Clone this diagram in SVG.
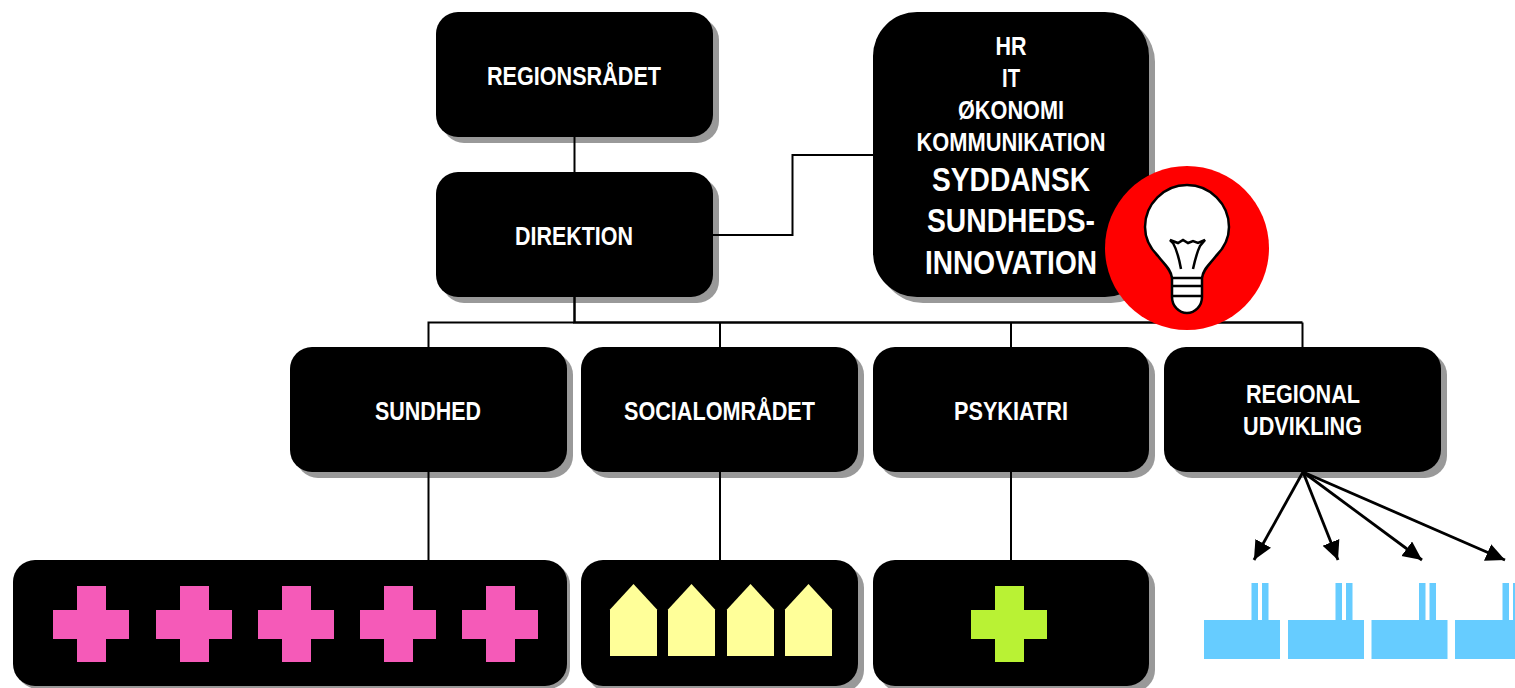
<svg xmlns="http://www.w3.org/2000/svg" width="1515" height="688" viewBox="0 0 1515 688">
<style>
.sh{fill:#999}
.bx{fill:#000}
.t{font-family:"Liberation Sans",Arial,sans-serif;font-weight:700;fill:#fff;text-anchor:middle;font-size:26px}
.b{font-size:34px}
.c{fill:none;stroke:#000;stroke-width:2}
.k{fill:none;stroke:#000;stroke-width:2.500}
.a{fill:none;stroke:#000;stroke-width:2.800;marker-end:url(#ah)}
.bl{fill:#fff;stroke:#000;stroke-width:2.500;stroke-linejoin:round}
.ln{fill:none;stroke:#000;stroke-width:2.500}
.pk{fill:#f55ab8}.gr{fill:#b9f234}.ye{fill:#ffff99}.fa{fill:#66ccff}
</style>
<defs>
<marker id="ah" markerUnits="userSpaceOnUse" markerWidth="22" markerHeight="20" refX="19" refY="9" orient="auto"><path d="M0 0L19 9L0 18z" fill="#000"/></marker>
<path id="cross" d="M24 0h29v24h23v29h-23v23h-29v-23h-24v-29h24z"/>
<path id="house" d="M0 25.500L23.500 0L47 25.500V72H0z"/>
<path id="fac" d="M0 37H47.500V0H54V37H58V0H64.500V37H76V76H0z"/>
</defs>
<g id="regionsraadet"><rect class="sh" x="442" y="18" width="277" height="125" rx="22"/><rect class="bx" x="436" y="12" width="277" height="125" rx="22"/><text class="t" x="574" y="85" textLength="174" lengthAdjust="spacingAndGlyphs">REGIONSRÅDET</text></g>
<g id="direktion"><rect class="sh" x="442" y="178" width="277" height="125" rx="22"/><rect class="bx" x="436" y="172" width="277" height="125" rx="22"/><text class="t" x="574" y="245" textLength="118" lengthAdjust="spacingAndGlyphs">DIREKTION</text></g>
<g id="stab"><rect class="sh" x="879" y="18" width="276" height="285" rx="44"/><rect class="bx" x="873" y="12" width="276" height="285" rx="44"/>
<text class="t" x="1011" y="55" textLength="31" lengthAdjust="spacingAndGlyphs">HR</text><text class="t" x="1011" y="87" textLength="18" lengthAdjust="spacingAndGlyphs">IT</text><text class="t" x="1011" y="118.500" textLength="106" lengthAdjust="spacingAndGlyphs">ØKONOMI</text><text class="t" x="1011" y="150.500" textLength="189" lengthAdjust="spacingAndGlyphs">KOMMUNIKATION</text>
<text class="t b" x="1011" y="191" textLength="158" lengthAdjust="spacingAndGlyphs">SYDDANSK</text><text class="t b" x="1011" y="232" textLength="168" lengthAdjust="spacingAndGlyphs">SUNDHEDS-</text><text class="t b" x="1011" y="274" textLength="172" lengthAdjust="spacingAndGlyphs">INNOVATION</text></g>
<g id="sundhed"><rect class="sh" x="296" y="353" width="277" height="125" rx="22"/><rect class="bx" x="290" y="347" width="277" height="125" rx="22"/><text class="t" x="428" y="420" textLength="106" lengthAdjust="spacingAndGlyphs">SUNDHED</text></g>
<g id="socialomraadet"><rect class="sh" x="587" y="353" width="277" height="125" rx="22"/><rect class="bx" x="581" y="347" width="277" height="125" rx="22"/><text class="t" x="719.500" y="420" textLength="191" lengthAdjust="spacingAndGlyphs">SOCIALOMRÅDET</text></g>
<g id="psykiatri"><rect class="sh" x="879" y="353" width="276" height="125" rx="22"/><rect class="bx" x="873" y="347" width="276" height="125" rx="22"/><text class="t" x="1011" y="420" textLength="114" lengthAdjust="spacingAndGlyphs">PSYKIATRI</text></g>
<g id="regional"><rect class="sh" x="1170" y="353" width="277" height="125" rx="22"/><rect class="bx" x="1164" y="347" width="277" height="125" rx="22"/><text class="t" x="1303" y="403" textLength="114" lengthAdjust="spacingAndGlyphs">REGIONAL</text><text class="t" x="1302.500" y="435" textLength="119" lengthAdjust="spacingAndGlyphs">UDVIKLING</text></g>
<g id="sundhed-enheder"><rect class="sh" x="16" y="563" width="554" height="126" rx="22"/><rect class="bx" x="13" y="560" width="554" height="126" rx="22"/>
<use href="#cross" class="pk" x="53" y="586"/><use href="#cross" class="pk" x="156" y="586"/><use href="#cross" class="pk" x="258" y="586"/><use href="#cross" class="pk" x="360" y="586"/><use href="#cross" class="pk" x="462" y="586"/></g>
<g id="social-enheder"><rect class="sh" x="587" y="566" width="277" height="126" rx="22"/><rect class="bx" x="581" y="560" width="277" height="126" rx="22"/>
<use href="#house" class="ye" x="610" y="584"/><use href="#house" class="ye" x="668" y="584"/><use href="#house" class="ye" x="727" y="584"/><use href="#house" class="ye" x="785" y="584"/></g>
<g id="psykiatri-enheder"><rect class="sh" x="879" y="566" width="276" height="126" rx="22"/><rect class="bx" x="873" y="560" width="276" height="126" rx="22"/><use href="#cross" class="gr" x="971" y="586"/></g>
<g id="virksomheder"><use href="#fac" class="fa" x="1204" y="583"/><use href="#fac" class="fa" x="1288" y="583"/><use href="#fac" class="fa" x="1371.500" y="583"/><use href="#fac" class="fa" x="1455" y="583"/></g>
<g id="connectors">
<path class="c" d="M574.500 137V172"/>
<path class="k" d="M574.500 297V322.500H1302.500"/>
<path class="c" d="M428.500 347V322.500H574M1302.500 322.500V347"/>
<path class="c" d="M720 322V347M1011 322V347"/>
<path class="c" d="M713 235H792.500V155H873"/>
<path class="c" d="M428.500 472V560M720 472V560M1011 472V560"/>
<path class="a" d="M1303 472L1254 560"/>
<path class="a" d="M1303 472L1338 560"/>
<path class="a" d="M1303 472L1422 560"/>
<path class="a" d="M1303 472L1505 560"/>
</g>
<g id="innovation"><circle cx="1187" cy="248" r="82" fill="#f00"/>
<path class="bl" d="M1172 278V297C1172 306 1179 313 1187 313C1195 313 1202 306 1202 297V278C1203 269 1210 264 1216 256C1224 248 1229 238 1229 227C1229 204 1210 185 1187 185C1164 185 1145 204 1145 227C1145 238 1150 248 1158 256C1164 264 1171 269 1172 278Z"/>
<path class="ln" d="M1172 278H1202M1172 286H1202M1172 296H1202M1181 269C1179 258 1177 250 1173 243L1170 240L1178 243L1183 240L1188 243L1193 241L1198 243L1205 240L1200 246C1197 252 1195 260 1193 269"/></g>
</svg>
